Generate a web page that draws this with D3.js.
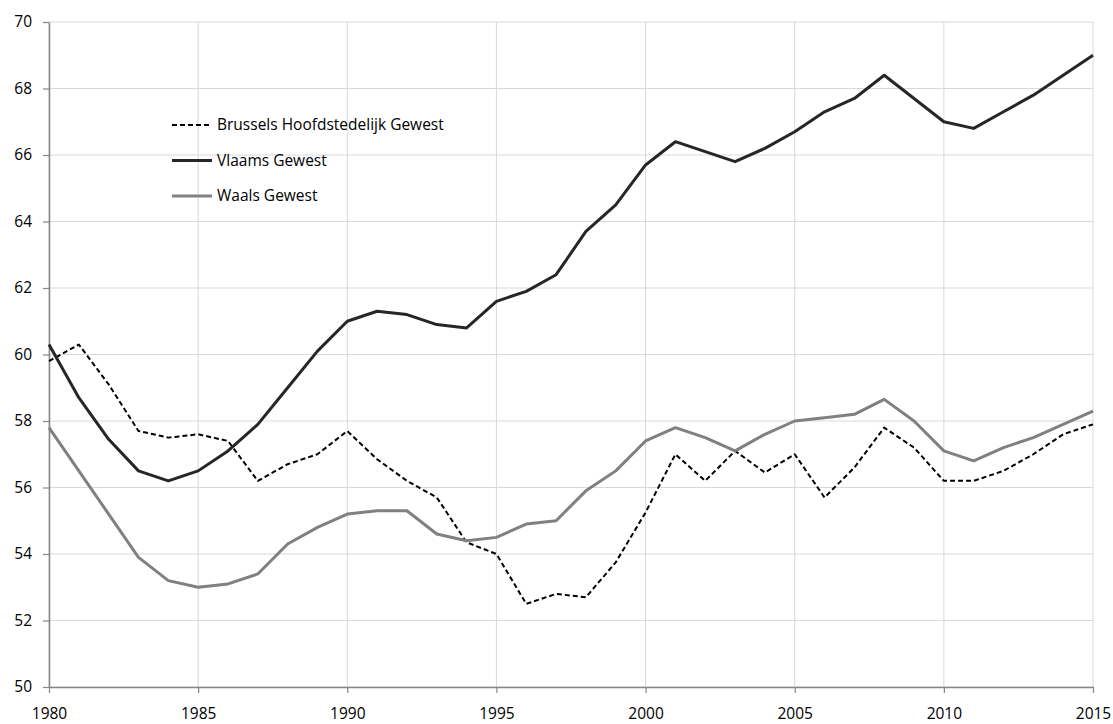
<!DOCTYPE html>
<html>
<head>
<meta charset="utf-8">
<script src="https://cdn.jsdelivr.net/npm/d3@7"></script>
<style>
  body { margin: 0; background: #fff; }
  text { font-family: "Open Sans", sans-serif; fill: #000; }
</style>
</head>
<body>
<script>
// Data
const years = d3.range(1980, 2016)
const brussels = [59.8, 60.3, 59.1, 57.7, 57.5, 57.6, 57.4, 56.2, 56.7, 57.0,
  57.7, 56.85, 56.2, 55.7, 54.35, 54.0, 52.5, 52.8, 52.7, 53.75,
  55.25, 57.0, 56.2, 57.1, 56.45, 57.0, 55.7, 56.6, 57.8, 57.2,
  56.2, 56.2, 56.5, 57.0, 57.6, 57.9]
const vlaams = [60.3, 58.7, 57.45, 56.5, 56.2, 56.5, 57.1, 57.9, 59.0, 60.1,
  61.0, 61.3, 61.2, 60.9, 60.8, 61.6, 61.9, 62.4, 63.7, 64.5,
  65.7, 66.4, 66.1, 65.8, 66.2, 66.7, 67.3, 67.7, 68.4, 67.7,
  67.0, 66.8, 67.3, 67.8, 68.4, 69.0]
const waals = [57.8, 56.5, 55.2, 53.9, 53.2, 53.0, 53.1, 53.4, 54.3, 54.8,
  55.2, 55.3, 55.3, 54.6, 54.4, 54.5, 54.9, 55.0, 55.9, 56.5,
  57.4, 57.8, 57.5, 57.1, 57.6, 58.0, 58.1, 58.2, 58.65, 58.0,
  57.1, 56.8, 57.2, 57.5, 57.9, 58.3]
const xTicks = [1980, 1985, 1990, 1995, 2000, 2005, 2010, 2015]
const yTicks = [50, 52, 54, 56, 58, 60, 62, 64, 66, 68, 70]

const series = [
  { name: 'Brussels Hoofdstedelijk Gewest', values: brussels, color: '#000', width: 2, dash: '5,3' },
  { name: 'Vlaams Gewest', values: vlaams, color: '#262626', width: 3, dash: null },
  { name: 'Waals Gewest', values: waals, color: '#808080', width: 3, dash: null }
]

const width = 1113
const height = 724
const margin = { top: 22, right: 20, bottom: 37, left: 49 }

const svg = d3.select('body').append('svg')
  .attr('width', width)
  .attr('height', height)

const x = d3.scaleLinear()
  .domain([1980, 2015])
  .range([margin.left, width - margin.right])
const y = d3.scaleLinear()
  .domain([50, 70])
  .range([height - margin.bottom, margin.top])

// Grid
svg.append('g')
  .selectAll('line')
  .data(yTicks)
  .enter()
  .append('line')
  .attr('x1', margin.left)
  .attr('x2', width - margin.right)
  .attr('y1', d => y(d))
  .attr('y2', d => y(d))
  .attr('stroke', '#d9d9d9')
svg.append('g')
  .selectAll('line')
  .data(xTicks)
  .enter()
  .append('line')
  .attr('x1', d => x(d))
  .attr('x2', d => x(d))
  .attr('y1', margin.top)
  .attr('y2', height - margin.bottom)
  .attr('stroke', '#d9d9d9')

// Axes
const yAxis = svg.append('g')
  .attr('transform', `translate(${margin.left},0)`)
  .call(d3.axisLeft(y).tickValues(yTicks).tickSize(6).tickPadding(11).tickSizeOuter(0))
const xAxis = svg.append('g')
  .attr('transform', `translate(0,${height - margin.bottom})`)
  .call(d3.axisBottom(x).tickValues(xTicks).tickFormat(d3.format('d')).tickSize(6).tickPadding(15).tickSizeOuter(0))

;[xAxis, yAxis].forEach(a => {
  a.select('.domain').attr('stroke', '#868686').attr('stroke-width', 1.5)
  a.selectAll('.tick line').attr('stroke', '#868686').attr('stroke-width', 1.2)
  a.selectAll('.tick text')
    .attr('font-family', '"Open Sans", sans-serif')
    .attr('font-size', 15.5)
    .attr('fill', '#000')
})

// Lines
const line = d3.line()
  .x((d, i) => x(years[i]))
  .y(d => y(d))

series.forEach(s => {
  svg.append('path')
    .datum(s.values)
    .attr('d', line)
    .attr('fill', 'none')
    .attr('stroke', s.color)
    .attr('stroke-width', s.width)
    .attr('stroke-dasharray', s.dash)
    .attr('stroke-linejoin', 'round')
})

// Legend
const legend = svg.append('g')
  .attr('transform', 'translate(172,125)')
series.forEach((s, i) => {
  const row = legend.append('g')
    .attr('transform', `translate(0,${i * 35.5})`)
  row.append('line')
    .attr('x1', 0)
    .attr('x2', 40)
    .attr('stroke', s.color)
    .attr('stroke-width', s.width)
    .attr('stroke-dasharray', s.dash)
  row.append('text')
    .attr('x', 45)
    .attr('dy', '0.35em')
    .attr('font-size', 15.5)
    .text(s.name)
})
</script>
</body>
</html>
